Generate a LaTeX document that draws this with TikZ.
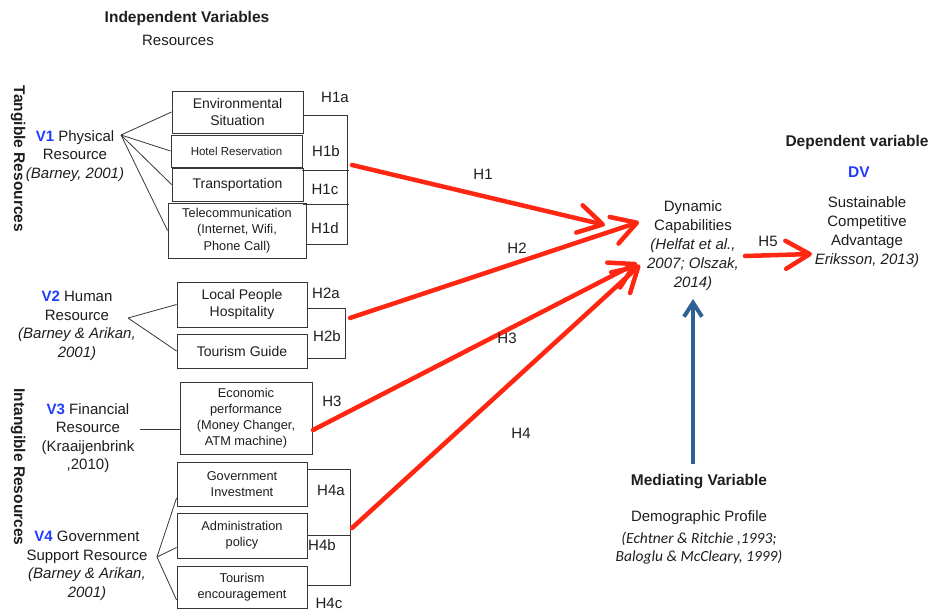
\documentclass[tikz,border=0pt]{standalone}
\usepackage{fontspec}
\setmainfont{Liberation Sans}
\newfontfamily\citefont{Carlito}
\usetikzlibrary{arrows.meta}
\definecolor{vblue}{RGB}{30,60,255}
\definecolor{hred}{RGB}{255,38,18}
\definecolor{mblue}{RGB}{46,97,148}
\definecolor{ink}{RGB}{30,30,30}
\definecolor{linec}{RGB}{55,55,55}
\newcommand{\fs}[2]{\fontsize{#1}{#2}\selectfont}
\newcommand{\vl}[1]{\textcolor{vblue}{\textbf{#1}}}
\tikzset{
  box/.style={draw=linec, line width=0.9pt, align=center, inner sep=0pt, text=ink},
  lbl/.style={text=ink, font=\fs{15}{18.5}, align=center, inner sep=0pt},
  hyp/.style={text=ink, font=\fs{15}{18}, inner sep=0pt},
  conn/.style={draw=linec, line width=0.8pt},
  redarrow/.style={draw=hred, line width=4.5pt, line cap=round, -{Straight Barb[length=24pt,width=28pt,round]}},
  bluearrow/.style={draw=mblue, line width=4pt, -{Straight Barb[length=14pt,width=18pt]}}
}
\begin{document}
\begin{tikzpicture}[x=1pt,y=-1pt]
\useasboundingbox (0,0) rectangle (933,612);

% headers
\node[lbl, font=\fs{15.5}{18}\bfseries] (indep) at (187,18) {Independent Variables};
\node[lbl] (res) at (178,40) {Resources};
\node[lbl, font=\fs{15.5}{18}\bfseries, rotate=-90] (tang) at (18,159) {Tangible Resources};
\node[lbl, font=\fs{15.5}{18}\bfseries, rotate=-90] (intang) at (18,467) {Intangible Resources};

% V labels
\node[lbl] (v1) at (75,156) {\vl{V1} Physical\\Resource\\\textit{(Barney, 2001)}};
\node[lbl] (v2) at (77,326) {\vl{V2} Human\\Resource\\\textit{(Barney \& Arikan,}\\\textit{2001)}};
\node[lbl] (v3) at (88,438) {\vl{V3} Financial\\Resource\\(Kraaijenbrink\\,2010)};
\node[lbl] (v4) at (87,566) {\vl{V4} Government\\Support Resource\\\textit{(Barney \& Arikan,}\\\textit{2001)}};

% boxes
\node[box, minimum width=131, minimum height=42, font=\fs{14}{17.5}] (env) at (237.5,112) {Environmental\\Situation};
\node[box, minimum width=131, minimum height=32, font=\fs{11.5}{14}] (hotel) at (236.5,151) {Hotel Reservation};
\node[box, minimum width=131, minimum height=33, font=\fs{14}{17}] (trans) at (237.5,184.5) {Transportation};
\node[box, minimum width=138, minimum height=55, font=\fs{12.8}{16.5}] (tele) at (237,230.5) {Telecommunication\\(Internet, Wifi,\\Phone Call)};
\node[box, minimum width=130, minimum height=45, font=\fs{14}{16.5}] (local) at (242,304.5) {Local People\\Hospitality};
\node[box, minimum width=130, minimum height=34, font=\fs{14}{17}] (guide) at (242,351) {Tourism Guide};
\node[box, minimum width=132, minimum height=72, font=\fs{12.8}{16}] (econ) at (246,418) {Economic\\performance\\(Money Changer,\\ATM machine)};
\node[box, minimum width=130, minimum height=44, font=\fs{12.8}{15.5}] (govinv) at (242,484) {Government\\Investment};
\node[box, minimum width=130, minimum height=45, font=\fs{12.8}{16.3}] (admin) at (242,535.5) {Administration\\policy};
\node[box, minimum width=130, minimum height=42, font=\fs{12.8}{16}] (encour) at (242,587) {Tourism\\encouragement};

% fan connectors
\coordinate (f1) at (121,135);
\draw[conn] (f1) -- (env.west);
\draw[conn] (f1) -- (hotel.west);
\draw[conn] (f1) -- (trans.west);
\draw[conn] (f1) -- (tele.west);
\coordinate (f2) at (128,318);
\draw[conn] (f2) -- (local.west);
\draw[conn] (f2) -- (guide.west);
\coordinate (f3) at (140,429);
\draw[conn] (f3) -- (f3 -| econ.west);
\coordinate (f4) at (157,557);
\draw[conn] (f4) -- ([yshift=-14]govinv.west);
\draw[conn] (f4) -- ([yshift=-12]admin.west);
\draw[conn] (f4) -- ([yshift=-13]encour.west);

% H1 bracket table
\coordinate (b1t) at (347,115);
\coordinate (b1b) at (347,244);
\draw[conn] (env.east |- b1t) -- (b1t) -- (b1b) -- (tele.east |- b1b);
\draw[conn] (hotel.east |- 0,170) -- (349,170);
\draw[conn] (trans.east |- 0,204) -- (349,204);
% H2 bracket
\coordinate (b2t) at (345,308);
\coordinate (b2b) at (345,358);
\draw[conn] (local.east |- b2t) -- (b2t) -- (b2b) -- (guide.east |- b2b);
% H4 bracket
\coordinate (b4t) at (350,469);
\coordinate (b4b) at (350,585);
\draw[conn] (govinv.east |- b4t) -- (b4t) -- (b4b) -- (encour.east |- b4b);
\draw[conn] (admin.east |- 0,535) -- (350,535);

% hypothesis labels
\node[hyp] (h1a) at (335,97) {H1a};
\node[hyp] (h1b) at (326,151) {H1b};
\node[hyp] (h1c) at (325,189) {H1c};
\node[hyp] (h1d) at (325,228) {H1d};
\node[hyp] (h2a) at (326,293) {H2a};
\node[hyp] (h2b) at (327,336) {H2b};
\node[hyp] (h3s) at (332,401) {H3};
\node[hyp] (h4a) at (331,490) {H4a};
\node[hyp] (h4b) at (322,545) {H4b};
\node[hyp] (h4c) at (329,603) {H4c};

% center & right
\node[lbl, font=\fs{15}{19}] (dyn) at (693,246) {Dynamic\\Capabilities\\\textit{(Helfat et al.,}\\\textit{2007; Olszak,}\\\textit{2014)}};
\node[lbl, font=\fs{15.5}{18}\bfseries] (dephead) at (857,142) {Dependent variable};
\node[lbl, font=\fs{15.5}{18}\bfseries, text=vblue] (dv) at (859,172) {DV};
\node[lbl, font=\fs{15}{19}] (sca) at (867,232) {Sustainable\\Competitive\\Advantage\\\textit{Eriksson, 2013)}};

% mediating
\node[lbl, font=\fs{15.5}{18}\bfseries] (medhead) at (699,482) {Mediating Variable};
\node[lbl] (demo) at (699,518) {Demographic Profile};
\node[lbl, font=\citefont\itshape\fs{15.5}{18}] (democ) at (699,548) {(Echtner \& Ritchie ,1993;\\Baloglu \& McCleary, 1999)};

% red arrows
\coordinate (s1) at (352,165);
\coordinate (s2) at (350,318);
\coordinate (s3) at (313,430);
\coordinate (s4) at (352,528);
\coordinate (e1) at (605,225);
\coordinate (e2) at (639,222);
\coordinate (e3) at (637,263);
\coordinate (e4) at (640,265);
\coordinate (s5) at (745,256);
\coordinate (e5) at (812,254);
\draw[redarrow] (s1) -- (e1);
\draw[redarrow] (s2) -- (e2);
\draw[redarrow] (s3) -- (e3);
\draw[redarrow] (s4) -- (e4);
\draw[redarrow] (s5) -- (e5);
\node[hyp] (h1) at (483,174) {H1};
\node[hyp] (h2) at (517,248) {H2};
\node[hyp] (h3) at (507,338) {H3};
\node[hyp] (h4) at (521,433) {H4};
\node[hyp] (h5) at (768,241) {H5};

% blue arrow
\coordinate (m1) at (693,464);
\coordinate (m2) at (693,299);
\draw[bluearrow] (m1) -- (m2);
\end{tikzpicture}
\end{document}
